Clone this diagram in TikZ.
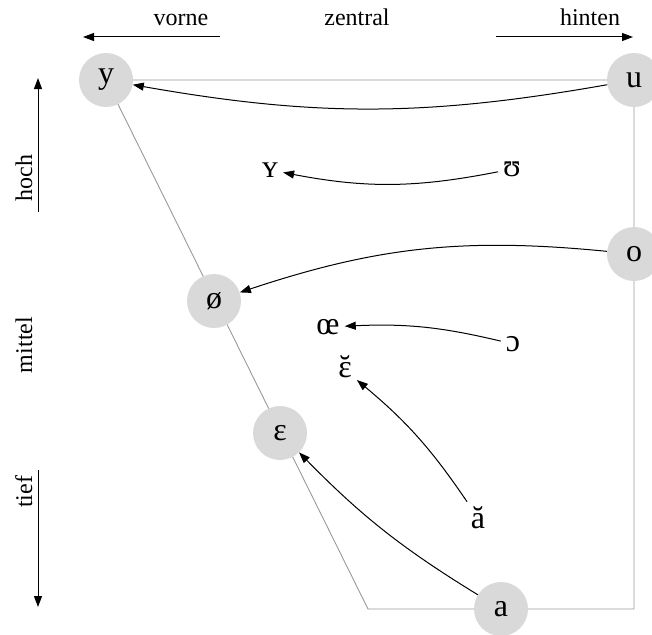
\documentclass[tikz,border=0pt]{standalone}
\usepackage{fontspec}
\setmainfont{Liberation Serif}
\usetikzlibrary{arrows.meta,backgrounds}
\begin{document}
\begin{tikzpicture}[x=1pt,y=-1pt,
  every node/.style={font=\fontsize{24}{28}\selectfont},
  vfont/.style={font=\fontsize{32}{36}\selectfont},
  vowel/.style={vfont, circle, fill=black!15, minimum size=54pt, inner sep=0pt},
  sym/.style={vfont, inner sep=5pt},
  edge/.style={draw=black!40, line width=0.9pt},
  mv/.style={-{Triangle[length=11pt,width=8pt]}, line width=1pt},
  axis/.style={-{Triangle[length=11pt,width=8pt]}, line width=1pt},
  lab/.style={anchor=base, inner sep=0pt}]
\useasboundingbox (0,0) rectangle (652,634);
% cardinal vowels
\node[vowel] (y) at (106,80) {y};
\node[vowel] (u) at (634,80) {u};
\node[vowel] (o) at (634,254) {o};
\node[vowel] (oe) at (214,301) {ø};
\node[vowel] (eps) at (280,433) {ɛ};
\node[vowel] (a) at (501,609) {a};
\coordinate (bl) at (368,609);
\coordinate (br) at (634,609);
\begin{scope}[on background layer]
  \draw[edge] (y.center) -- (u.center) -- (br) -- (bl) -- cycle;
\end{scope}
% other vowels
\node[sym] (Y) at (270,170) {ʏ};
\node[sym] (U) at (512,169) {ʊ};
\node[sym] (OE) at (328,327) {œ};
\node[sym] (O) at (513,344) {ɔ};
\node[sym] (E) at (345,370) {\ooalign{ɛ\cr\hidewidth˘\hidewidth\cr}};
\node[sym] (A) at (478,518) {ă};
% arrows
\draw[mv] (u) to[bend left=10] (y);
\draw[mv] (U) to[bend left=11] (Y);
\draw[mv] (o) to[bend right=12] (oe);
\draw[mv] (O) to[bend right=8] (OE);
\draw[mv] (A) to[bend right=8] (E);
\draw[mv] (a) to[bend left=7] (eps);
% axes
\coordinate (vs) at (220,37); \coordinate (ve) at (83,37);
\coordinate (hs) at (496,37); \coordinate (he) at (633,37);
\coordinate (os) at (38,212); \coordinate (oe2) at (38,78);
\coordinate (ts) at (38,470); \coordinate (te) at (38,607);
\draw[axis] (vs) -- (ve);
\draw[axis] (hs) -- (he);
\draw[axis] (os) -- (oe2);
\draw[axis] (ts) -- (te);
\node[lab] (vorne) at (181,26) {vorne};
\node[lab] (zentral) at (357,26) {zentral};
\node[lab] (hinten) at (590,26) {hinten};
\node[lab, rotate=90] (hoch) at (32,178) {hoch};
\node[lab, rotate=90] (mittel) at (32,345) {mittel};
\node[lab, rotate=90] (tief) at (32,492) {tief};
\end{tikzpicture}
\end{document}
